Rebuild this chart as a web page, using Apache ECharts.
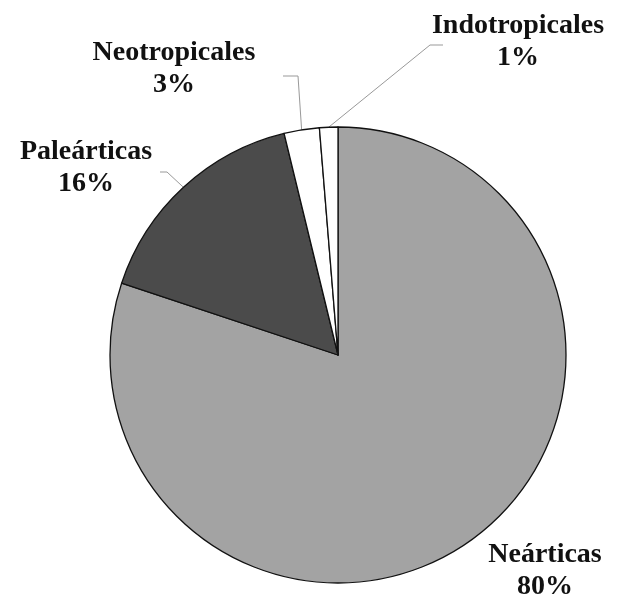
<!DOCTYPE html>
<html>
<head>
<meta charset="utf-8">
<script src="https://cdn.jsdelivr.net/npm/echarts@6/dist/echarts.min.js"></script>
<style>
html,body{margin:0;padding:0;background:#fff;}
#chart{width:632px;height:604px;}
</style>
</head>
<body>
<div id="chart"></div>
<script>
// Data
const categories = ['Neárticas', 'Paleárticas', 'Neotropicales', 'Indotropicales'];
const values = [80.1, 16.1, 2.5, 1.3];

// Styles / layout (not data)
const colors = ['#a3a3a3', '#4b4b4b', '#ffffff', '#ffffff'];
const labelAnchors = [[545, 571], [86, 168], [174, 69], [518, 42]];
const lineTails = [null, [[167, 172], [160, 172]], [[298, 76], [283, 76]], [[430, 45], [443, 45]]];

const chart = echarts.init(document.getElementById('chart'), null, {renderer: 'canvas'});
chart.setOption({
  backgroundColor: '#ffffff',
  animation: false,
  series: [{
    type: 'pie',
    center: [338, 355],
    radius: 228,
    startAngle: 90,
    clockwise: true,
    avoidLabelOverlap: false,
    itemStyle: {borderColor: '#111', borderWidth: 1.3},
    label: {
      show: true,
      position: 'outside',
      formatter: p => p.name + '\n' + Math.round(p.value) + '%',
      fontFamily: 'Liberation Serif',
      fontWeight: 'bold',
      fontSize: 28,
      lineHeight: 32,
      color: '#111',
      align: 'center'
    },
    labelLine: {show: true, length: 10, length2: 10, lineStyle: {color: '#999', width: 1}},
    labelLayout: function (params) {
      const i = params.dataIndex;
      const out = {x: labelAnchors[i][0], y: labelAnchors[i][1], align: 'center', verticalAlign: 'middle'};
      if (lineTails[i] && params.labelLinePoints) {
        out.labelLinePoints = [params.labelLinePoints[0]].concat(lineTails[i]);
      }
      return out;
    },
    data: categories.map((c, i) => ({
      name: c,
      value: values[i],
      itemStyle: {color: colors[i]},
      labelLine: {show: lineTails[i] !== null}
    }))
  }]
});
</script>
</body>
</html>
